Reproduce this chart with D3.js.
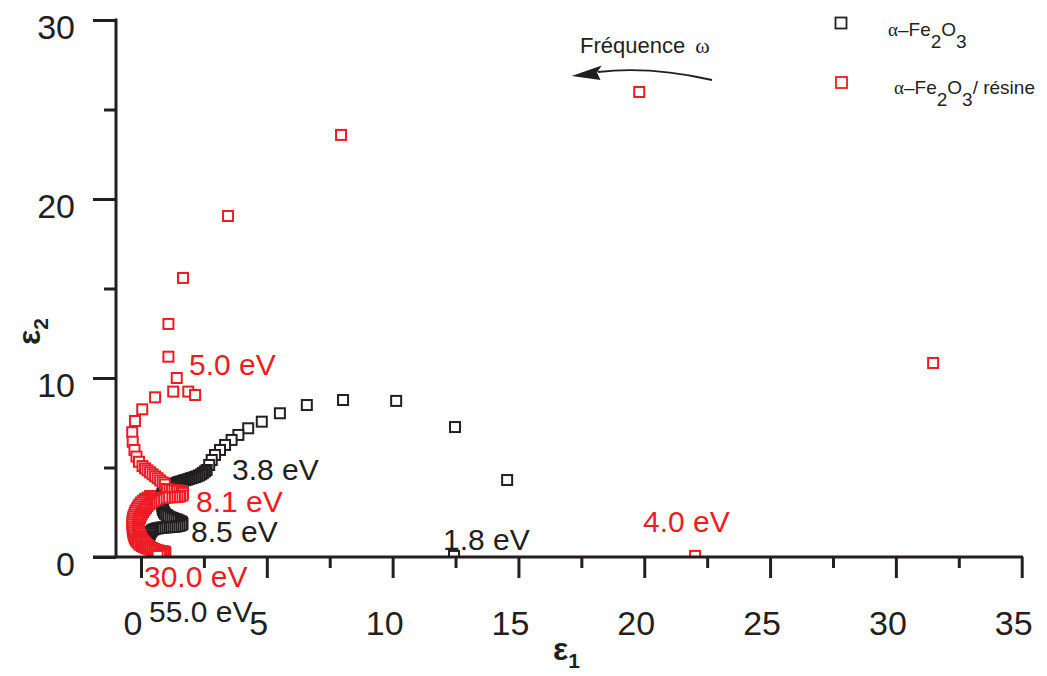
<!DOCTYPE html>
<html><head><meta charset="utf-8">
<script src="https://cdn.jsdelivr.net/npm/d3@7"></script>
<style>
body{margin:0;background:#fff}
svg{display:block}
text{font-family:"Liberation Sans",Arial,Helvetica,sans-serif}
</style>
</head><body>
<svg id="chart" width="1047" height="676"></svg>
<script>
// ---------------- data ----------------
const xMajorTicks = [0, 5, 10, 15, 20, 25, 30, 35];
const xMinorTicks = [2.5, 7.5, 12.5, 17.5, 22.5, 27.5, 32.5];
const yMajorTicks = [0, 10, 20, 30];
const yMinorTicks = [5, 15, 25];

const seriesNames = ["α–Fe2O3", "α–Fe2O3/ résine"];

// α-Fe2O3 : [ε1, ε2], from 1.8 eV to 55.0 eV
const fe2o3Points = [
 [12.44,0.06],[14.55,4.30],[12.48,7.26],[10.14,8.72],[8.03,8.77],[6.59,8.49],[5.52,8.03],[4.80,7.56],
 [4.26,7.19],[3.87,6.82],[3.60,6.54],[3.34,6.26],[3.14,5.98],[2.94,5.70],[2.81,5.42],[2.71,5.14],[2.61,4.86],
 [2.54,4.78],[2.46,4.69],[2.39,4.62],[2.31,4.56],[2.23,4.51],[2.15,4.47],[2.07,4.43],[1.99,4.40],[1.91,4.36],
 [1.83,4.32],[1.75,4.29],[1.67,4.26],[1.59,4.22],[1.51,4.19],[1.43,4.15],[1.35,4.11],[1.27,4.07],[1.19,4.02],
 [1.11,3.97],[1.03,3.90],[0.97,3.82],[0.92,3.73],[0.88,3.63],[0.85,3.52],[0.83,3.41],[0.83,3.30],[0.83,3.18],
 [0.83,3.07],[0.84,2.96],[0.85,2.85],[0.86,2.74],[0.87,2.63],[0.91,2.51],[0.95,2.42],[1.02,2.35],[1.09,2.28],
 [1.17,2.22],[1.25,2.18],[1.33,2.13],[1.41,2.10],[1.49,2.05],[1.57,2.00],[1.63,1.94],[1.65,1.85],[1.61,1.79],
 [1.53,1.74],[1.45,1.72],[1.37,1.70],[1.29,1.69],[1.21,1.68],[1.13,1.67],[1.05,1.66],[0.97,1.66],[0.89,1.65],
 [0.81,1.64],[0.74,1.63],[0.66,1.60],[0.58,1.58],[0.50,1.54],[0.44,1.48],[0.39,1.40],[0.36,1.29],[0.32,1.17],
 [0.28,1.06],[0.24,0.95],[0.22,0.84],[0.22,0.73],[0.26,0.61],[0.32,0.53],[0.40,0.46],[0.48,0.40],[0.56,0.36],
 [0.64,0.32],[0.72,0.30],[0.79,0.28],[0.87,0.26],[0.95,0.26]
];

// α-Fe2O3 / résine : [ε1, ε2], from 4.0 eV to 30.0 eV
const resinePoints = [
 [22.02,0.06],[31.48,10.84],[19.80,25.98],[7.95,23.58],[3.46,19.05],[1.67,15.59],[1.09,13.02],[1.09,11.19],
 [1.42,10.00],[1.28,9.24],[1.88,9.24],[2.15,9.05],[0.56,8.92],[0.05,8.25],[-0.24,7.60],[-0.35,6.97],
 [-0.33,6.44],[-0.26,5.98],[-0.18,5.61],[-0.08,5.32],[0.06,5.08],
 [0.16,4.95],[0.26,4.84],[0.36,4.73],[0.46,4.62],[0.56,4.51],[0.66,4.40],[0.76,4.28],[0.86,4.17],[0.95,4.05],
 [1.03,3.80],[1.13,3.77],[1.23,3.74],[1.33,3.73],[1.43,3.72],[1.53,3.70],[1.63,3.68],[1.67,3.58],[1.65,3.44],
 [1.55,3.38],[1.45,3.36],[1.35,3.35],[1.25,3.34],[1.15,3.34],[1.05,3.32],[0.95,3.32],[0.85,3.32],
 [0.36,3.41],[0.26,3.32],[0.16,3.24],[0.08,3.14],[0.00,3.04],[-0.06,2.93],[-0.11,2.82],[-0.16,2.71],
 [-0.20,2.60],[-0.24,2.49],[-0.27,2.37],[-0.30,2.26],[-0.32,2.15],[-0.33,2.04],[-0.34,1.93],[-0.34,1.82],
 [-0.33,1.70],[-0.33,1.59],[-0.32,1.48],[-0.31,1.37],[-0.29,1.26],[-0.27,1.15],[-0.24,1.03],[-0.20,0.93],
 [-0.15,0.84],[-0.10,0.75],[-0.03,0.68],[0.04,0.61],[0.12,0.56],[0.20,0.50],[0.28,0.46],[0.36,0.42],
 [0.44,0.40],[0.52,0.38],[0.60,0.36],[0.68,0.35],[0.76,0.34],[0.83,0.32],[0.91,0.31],
 [0.72,3.27],[0.62,3.21],[0.52,3.13],[0.42,3.04],[0.34,2.96],[0.26,2.85],[0.20,2.74],[0.14,2.63],
 [0.08,2.51],[0.03,2.40],[-0.01,2.29],[-0.04,2.18],[-0.07,2.07],[-0.09,1.96],[-0.10,1.84],[-0.11,1.73],
 [-0.10,1.62],[-0.09,1.51],[-0.07,1.40],[-0.05,1.29],[-0.02,1.17],[0.02,1.06],[0.07,0.95],[0.13,0.84],
 [0.20,0.74],[0.28,0.65],[0.36,0.57],[0.44,0.50],[0.52,0.45],[0.60,0.40],[0.68,0.36],[0.76,0.32],
 [0.83,0.29],[0.91,0.27],[0.97,0.25],
 [0.91,0.20],[0.83,0.14],[0.76,0.09],[0.66,0.06]
];

// energy annotations (text, series index for colour)
const energyLabels = [
 {text:"5.0 eV",  s:1, px:189, py:375},
 {text:"3.8 eV",  s:0, px:232, py:480},
 {text:"8.1 eV",  s:1, px:196, py:512},
 {text:"8.5 eV",  s:0, px:191, py:542},
 {text:"1.8 eV",  s:0, px:443, py:550},
 {text:"4.0 eV",  s:1, px:643, py:532},
 {text:"30.0 eV", s:1, px:144, py:587},
 {text:"55.0 eV", s:0, px:149, py:622}
];

// ---------------- drawing ----------------
const colors = ["#231f20", "#ed1c24"];
const svg = d3.select("#chart");
const x = d3.scaleLinear().domain([0, 35]).range([141, 1021.7]);
const y = d3.scaleLinear().domain([0, 30]).range([557, 20]);
const axisColor = "#231f20";

svg.append("defs").append("clipPath").attr("id","plotclip")
  .append("rect").attr("x",116).attr("y",0).attr("width",910).attr("height",557);

const sq = 10;
function drawSeries(points, color){
  svg.append("g").attr("clip-path","url(#plotclip)")
    .selectAll("rect").data(points).join("rect")
    .attr("x", d => x(d[0]) - sq/2)
    .attr("y", d => y(d[1]) - sq/2)
    .attr("width", sq).attr("height", sq)
    .attr("fill", "#fff")
    .attr("stroke", color)
    .attr("stroke-width", 2);
}
drawSeries(fe2o3Points, colors[0]);
drawSeries(resinePoints, colors[1]);

// axes
const gx = svg.append("g").attr("transform", `translate(0,${y(0)})`);
gx.call(d3.axisBottom(x).tickValues(xMajorTicks).tickSize(21).tickFormat(d3.format("d")));
gx.append("g").call(d3.axisBottom(x).tickValues(xMinorTicks).tickSize(11).tickFormat(""));
gx.selectAll(".domain").remove();
gx.append("line").attr("x1",93).attr("x2",1023).attr("y1",0).attr("y2",0)
  .attr("stroke",axisColor).attr("stroke-width",3);
gx.selectAll(".tick line").attr("stroke",axisColor).attr("stroke-width",3);
gx.selectAll(".tick text").attr("fill",axisColor).attr("font-size",34)
  .attr("dx",-8.5).attr("y",0).attr("dy",78).attr("font-family","Liberation Sans, Arial, sans-serif");

const gy = svg.append("g").attr("transform", `translate(116,0)`);
gy.call(d3.axisLeft(y).tickValues(yMajorTicks).tickSize(23).tickFormat(d3.format("d")));
gy.append("g").call(d3.axisLeft(y).tickValues(yMinorTicks).tickSize(12).tickFormat(""));
gy.selectAll(".domain").remove();
gy.append("line").attr("x1",0).attr("x2",0).attr("y1",y(30)-1.5).attr("y2",y(0))
  .attr("stroke",axisColor).attr("stroke-width",3);
gy.selectAll(".tick line").attr("stroke",axisColor).attr("stroke-width",3);
gy.selectAll(".tick text").attr("fill",axisColor).attr("font-size",34)
  .attr("x",-41).attr("dy",18).attr("font-family","Liberation Sans, Arial, sans-serif");

// axis titles
const t1 = svg.append("text").attr("x",553).attr("y",660).attr("fill",axisColor)
  .attr("font-size",32).attr("font-weight","bold");
t1.append("tspan").text("ε");
t1.append("tspan").attr("font-size",21).attr("dy",8).text("1");

const t2 = svg.append("text").attr("transform","translate(40,345) rotate(-90)").attr("fill",axisColor)
  .attr("font-size",32).attr("font-weight","bold");
t2.append("tspan").text("ε");
t2.append("tspan").attr("font-size",21).attr("dy",8).text("2");

// energy labels
svg.append("g").selectAll("text").data(energyLabels).join("text")
  .attr("x", d => d.px).attr("y", d => d.py)
  .attr("fill", d => colors[d.s]).attr("font-size", 30)
  .text(d => d.text);

// legend
const legend = [
  {name: seriesNames[0], cx: 841, cy: 23, tx: 888, ty: 36},
  {name: seriesNames[1], cx: 841.5, cy: 82.5, tx: 894, ty: 94}
];
legend.forEach((L, i) => {
  svg.append("rect").attr("x", L.cx - 5.5).attr("y", L.cy - 5.5).attr("width", 11).attr("height", 11)
    .attr("fill","#fff").attr("stroke", colors[i]).attr("stroke-width",1.8);
  const t = svg.append("text").attr("x", L.tx).attr("y", L.ty).attr("font-size", 19).attr("fill", axisColor);
  const m = L.name.match(/^(α)(–Fe)(2)(O)(3)(.*)$/);
  t.append("tspan").attr("font-family","Liberation Serif, serif").attr("font-size",19).text(m[1]);
  t.append("tspan").text(m[2]);
  t.append("tspan").attr("dy",12).text(m[3]);
  t.append("tspan").attr("dy",-12).text(m[4]);
  t.append("tspan").attr("dy",12).text(m[5]);
  if (m[6]) t.append("tspan").attr("dy",-12).text(m[6]);
});

// frequency annotation
const ft = svg.append("text").attr("x",580).attr("y",53).attr("font-size",22).attr("fill",axisColor);
ft.append("tspan").text("Fréquence ");
ft.append("tspan").attr("dx",4).attr("font-family","Liberation Serif, serif").attr("font-size",22).text("ω");
svg.append("path").attr("d","M598,72 Q650,66 712,80").attr("fill","none")
  .attr("stroke",axisColor).attr("stroke-width",1.8);
svg.append("path").attr("d","M571.7,76 L601.7,65.5 L597,72.5 L600.5,80 Z").attr("fill",axisColor);
</script>
</body></html>
